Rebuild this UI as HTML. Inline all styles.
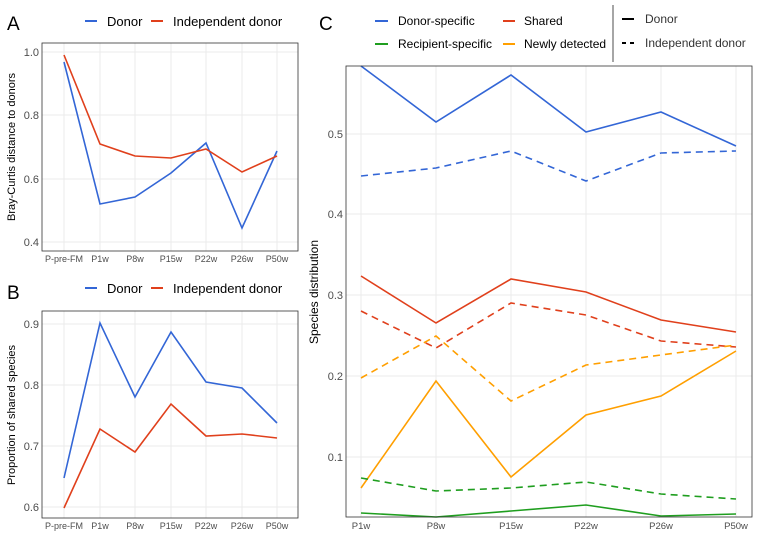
<!DOCTYPE html>
<html><head><meta charset="utf-8"><style>
html,body{margin:0;padding:0;background:#fff}
svg{display:block;font-family:"Liberation Sans",sans-serif}
</style></head><body>
<svg width="760" height="533" viewBox="0 0 760 533" xmlns="http://www.w3.org/2000/svg">
<rect width="760" height="533" fill="#fff"/>
<!-- Panel A -->
<text x="7" y="30" font-size="19">A</text>
<line x1="85" y1="21" x2="97" y2="21" stroke="#3366d6" stroke-width="2"/>
<text x="107" y="26" font-size="13">Donor</text>
<line x1="151" y1="21" x2="163" y2="21" stroke="#e0401c" stroke-width="2"/>
<text x="173" y="26" font-size="13">Independent donor</text>
<g stroke="#ebebeb" stroke-width="1">
<line x1="42" y1="52" x2="298" y2="52"/><line x1="42" y1="115" x2="298" y2="115"/><line x1="42" y1="179" x2="298" y2="179"/><line x1="42" y1="242" x2="298" y2="242"/>
<line x1="64" y1="43" x2="64" y2="251"/><line x1="100" y1="43" x2="100" y2="251"/><line x1="135" y1="43" x2="135" y2="251"/><line x1="171" y1="43" x2="171" y2="251"/><line x1="206" y1="43" x2="206" y2="251"/><line x1="242" y1="43" x2="242" y2="251"/><line x1="277" y1="43" x2="277" y2="251"/>
</g>
<polyline fill="none" stroke="#3366d6" stroke-width="1.6" points="64,62 100,204 135,197 171,173 206,143 242,228 277,151"/>
<polyline fill="none" stroke="#e0401c" stroke-width="1.6" points="64,55 100,144 135,156 171,158 206,149 242,172 277,156"/>
<rect x="42" y="43" width="256" height="208" fill="none" stroke="#333" stroke-width="0.8"/>
<g font-size="11" fill="#4d4d4d" text-anchor="end">
<text x="39" y="56">1.0</text><text x="39" y="119">0.8</text><text x="39" y="183">0.6</text><text x="39" y="246">0.4</text>
</g>
<g font-size="9" fill="#4d4d4d" text-anchor="middle">
<text x="64" y="262">P-pre-FM</text><text x="100" y="262">P1w</text><text x="135" y="262">P8w</text><text x="171" y="262">P15w</text><text x="206" y="262">P22w</text><text x="242" y="262">P26w</text><text x="277" y="262">P50w</text>
</g>
<text transform="translate(15,147) rotate(-90)" font-size="11" text-anchor="middle">Bray-Curtis distance to donors</text>
<!-- Panel B -->
<text x="7" y="299" font-size="19">B</text>
<line x1="85" y1="288" x2="97" y2="288" stroke="#3366d6" stroke-width="2"/>
<text x="107" y="293" font-size="13">Donor</text>
<line x1="151" y1="288" x2="163" y2="288" stroke="#e0401c" stroke-width="2"/>
<text x="173" y="293" font-size="13">Independent donor</text>
<g stroke="#ebebeb" stroke-width="1">
<line x1="42" y1="324" x2="298" y2="324"/><line x1="42" y1="385" x2="298" y2="385"/><line x1="42" y1="446" x2="298" y2="446"/><line x1="42" y1="507" x2="298" y2="507"/>
<line x1="64" y1="311" x2="64" y2="518"/><line x1="100" y1="311" x2="100" y2="518"/><line x1="135" y1="311" x2="135" y2="518"/><line x1="171" y1="311" x2="171" y2="518"/><line x1="206" y1="311" x2="206" y2="518"/><line x1="242" y1="311" x2="242" y2="518"/><line x1="277" y1="311" x2="277" y2="518"/>
</g>
<polyline fill="none" stroke="#3366d6" stroke-width="1.6" points="64,478 100,323 135,397 171,332 206,382 242,388 277,423"/>
<polyline fill="none" stroke="#e0401c" stroke-width="1.6" points="64,508 100,429 135,452 171,404 206,436 242,434 277,438"/>
<rect x="42" y="311" width="256" height="207" fill="none" stroke="#333" stroke-width="0.8"/>
<g font-size="11" fill="#4d4d4d" text-anchor="end">
<text x="39" y="328">0.9</text><text x="39" y="389">0.8</text><text x="39" y="450">0.7</text><text x="39" y="511">0.6</text>
</g>
<g font-size="9" fill="#4d4d4d" text-anchor="middle">
<text x="64" y="529">P-pre-FM</text><text x="100" y="529">P1w</text><text x="135" y="529">P8w</text><text x="171" y="529">P15w</text><text x="206" y="529">P22w</text><text x="242" y="529">P26w</text><text x="277" y="529">P50w</text>
</g>
<text transform="translate(15,415) rotate(-90)" font-size="11" text-anchor="middle">Proportion of shared species</text>
<!-- Panel C -->
<text x="319" y="30" font-size="19">C</text>
<g font-size="12">
<line x1="375" y1="21" x2="388" y2="21" stroke="#3366d6" stroke-width="2"/><text x="398" y="25">Donor-specific</text>
<line x1="503" y1="21" x2="515" y2="21" stroke="#e0401c" stroke-width="2"/><text x="524" y="25">Shared</text>
<line x1="375" y1="44" x2="388" y2="44" stroke="#1f9e1f" stroke-width="2"/><text x="398" y="48">Recipient-specific</text>
<line x1="503" y1="44" x2="515" y2="44" stroke="#ff9f00" stroke-width="2"/><text x="524" y="48">Newly detected</text>
<line x1="613" y1="5" x2="613" y2="62" stroke="#888" stroke-width="1.5"/>
<line x1="622" y1="19" x2="634" y2="19" stroke="#000" stroke-width="2"/><text x="645" y="23" fill="#333">Donor</text>
<line x1="622" y1="43" x2="634" y2="43" stroke="#000" stroke-width="2" stroke-dasharray="4,4"/><text x="645" y="47" fill="#333">Independent donor</text>
</g>
<g stroke="#ebebeb" stroke-width="1">
<line x1="346" y1="134" x2="752" y2="134"/><line x1="346" y1="214" x2="752" y2="214"/><line x1="346" y1="295" x2="752" y2="295"/><line x1="346" y1="376" x2="752" y2="376"/><line x1="346" y1="457" x2="752" y2="457"/>
<line x1="361" y1="66" x2="361" y2="517"/><line x1="436" y1="66" x2="436" y2="517"/><line x1="511" y1="66" x2="511" y2="517"/><line x1="586" y1="66" x2="586" y2="517"/><line x1="661" y1="66" x2="661" y2="517"/><line x1="736" y1="66" x2="736" y2="517"/>
</g>
<g fill="none" stroke-width="1.6">
<polyline stroke="#3366d6" points="361,66 436,122 511,75 586,132 661,112 736,146"/>
<polyline stroke="#3366d6" stroke-dasharray="7,5" points="361,176 436,168 511,151 586,181 661,153 736,151"/>
<polyline stroke="#e0401c" points="361,276 436,323 511,279 586,292 661,320 736,332"/>
<polyline stroke="#e0401c" stroke-dasharray="7,5" points="361,311 436,348 511,303 586,315 661,341 736,347"/>
<polyline stroke="#ff9f00" points="361,488 436,381 511,477 586,415 661,396 736,351"/>
<polyline stroke="#ff9f00" stroke-dasharray="7,5" points="361,378 436,336 511,401 586,365 661,355 736,345"/>
<polyline stroke="#1f9e1f" points="361,513 436,517 511,511 586,505 661,516 736,514"/>
<polyline stroke="#1f9e1f" stroke-dasharray="7,5" points="361,478 436,491 511,488 586,482 661,494 736,499"/>
</g>
<rect x="346" y="66" width="406" height="451" fill="none" stroke="#333" stroke-width="0.8"/>
<g font-size="11" fill="#4d4d4d" text-anchor="end">
<text x="343" y="138">0.5</text><text x="343" y="218">0.4</text><text x="343" y="299">0.3</text><text x="343" y="380">0.2</text><text x="343" y="461">0.1</text>
</g>
<g font-size="9.5" fill="#4d4d4d" text-anchor="middle">
<text x="361" y="529">P1w</text><text x="436" y="529">P8w</text><text x="511" y="529">P15w</text><text x="586" y="529">P22w</text><text x="661" y="529">P26w</text><text x="736" y="529">P50w</text>
</g>
<text transform="translate(318,292) rotate(-90)" font-size="12" text-anchor="middle">Species distribution</text>
</svg>
</body></html>
